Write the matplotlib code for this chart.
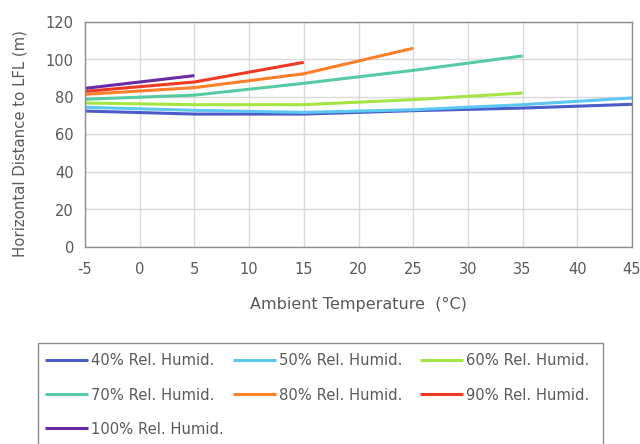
import matplotlib
matplotlib.use("Agg")
import matplotlib.pyplot as plt
from matplotlib.patches import Rectangle

plt.rcParams['font.family'] = ['DejaVu Sans']

temps = [-5, 5, 15, 25, 35, 45]
rh40 = [72.5, 70.9, 70.9, 72.7, 74.1, 76.1]
rh50 = [74.5, 72.9, 71.8, 73.2, 75.9, 79.5]
rh60 = [76.8, 75.9, 75.9, 78.6, 82.1]
rh70 = [78.8, 81.0, 87.3, 94.2, 101.9]
rh80 = [81.4, 85.0, 92.4, 106.0]
rh90 = [83.0, 88.0, 98.5]
rh100 = [84.6, 91.4]

labels = ["40% Rel. Humid.", "50% Rel. Humid.", "60% Rel. Humid.",
          "70% Rel. Humid.", "80% Rel. Humid.", "90% Rel. Humid.",
          "100% Rel. Humid."]
series = [rh40, rh50, rh60, rh70, rh80, rh90, rh100]
colors = ["#4A5CC8", "#5CC8F2", "#A4E544", "#55CBA2", "#FF8028", "#EE3A22", "#6A2AA4"]

xticks = [-5, 0, 5, 10, 15, 20, 25, 30, 35, 40, 45]
yticks = [0, 20, 40, 60, 80, 100, 120]

W, H = 640, 444
fig = plt.figure(figsize=(6.4, 4.44), dpi=100)
ax = fig.add_axes([85/W, 1-247/H, (632-85)/W, (247-22)/H])

tc = "#595959"
handles = []
for vals, lab, c in zip(series, labels, colors):
    h, = ax.plot(temps[:len(vals)], vals, color=c, lw=2.2, label=lab, solid_capstyle='butt')
    handles.append(h)

ax.set_xlim(-5, 45)
ax.set_ylim(0, 120)
ax.set_xticks(xticks)
ax.set_yticks(yticks)
ax.set_xticklabels([str(t) for t in xticks])
ax.grid(True, color="#D9D9D9", lw=1)
ax.set_axisbelow(True)
for s in ax.spines.values():
    s.set_color("#8C8C8C")
    s.set_linewidth(1)
ax.tick_params(axis='both', length=0, colors=tc, labelsize=10.5)
ax.tick_params(axis='x', pad=11)
ax.tick_params(axis='y', pad=8)
ax.set_xlabel("Ambient Temperature  (°C)", color=tc, fontsize=11.5, labelpad=14)
ax.set_ylabel("Horizontal Distance to LFL (m)", color=tc, fontsize=10.7)
ax.yaxis.set_label_coords(-0.106, 0.46)

# legend frame (clipped by figure bottom as in the reference)
fig.patches.append(Rectangle((38/W, -10/H), (603-38)/W, (H-343+10)/H,
                             transform=fig.transFigure, fill=False,
                             edgecolor="#8C8C8C", lw=1))

columns = [[0, 3, 6], [1, 4], [2, 5]]
col_x = [38, 226, 413]
for idx, x0 in zip(columns, col_x):
    leg = fig.legend([handles[i] for i in idx], [labels[i] for i in idx],
                     loc='upper left', bbox_to_anchor=(x0/W, 1-346/H),
                     ncol=1, fontsize=10.6, frameon=False,
                     handlelength=2.9, handletextpad=0.2, labelspacing=1.3,
                     borderpad=0.5, borderaxespad=0)
    for t in leg.get_texts():
        t.set_color(tc)

fig.savefig("out.png", dpi=100)
